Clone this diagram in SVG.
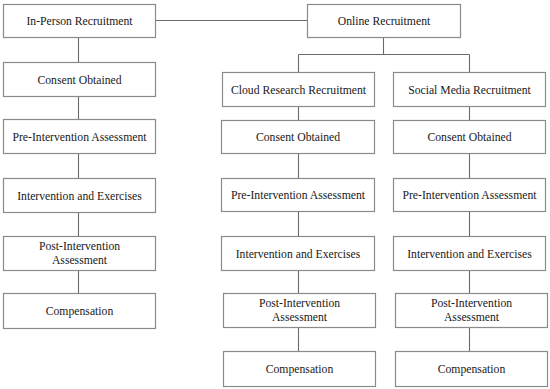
<svg xmlns="http://www.w3.org/2000/svg" width="550" height="389" viewBox="0 0 550 389">
<style>
.box{fill:#fff;stroke:#8a8a8a;stroke-width:1.2}
.t{font-family:"Liberation Serif","Times New Roman",serif;font-size:11.7px;fill:#1a1a1a;text-anchor:middle}
.c{stroke:#6a6a6a;stroke-width:1.1;fill:none}
</style>
<rect width="550" height="389" fill="#fff"/>
<g id="connectors">
<path class="c" d="M155,20.5H307"/>
<path class="c" d="M78.5,37V62M78.5,96V119M78.5,153V178M78.5,212V236M78.5,270V293"/>
<path class="c" d="M383.5,37V54.5M298.5,54.5H469.5M298.5,54.5V72M469.5,54.5V72"/>
<path class="c" d="M298.5,106V120M298.5,153V178M298.5,211V236M298.5,270V293M298.5,327V351"/>
<path class="c" d="M469.5,106V120M469.5,153V178M469.5,211V236M469.5,270V293M469.5,327V351"/>
</g>
<g id="inperson"><rect class="box" x="3.5" y="4.5" width="152" height="33"/><text class="t" x="79.5" y="25">In-Person Recruitment</text></g>
<g id="l_consent"><rect class="box" x="3.5" y="62.5" width="152" height="34"/><text class="t" x="79.5" y="83.5">Consent Obtained</text></g>
<g id="l_pre"><rect class="box" x="3.5" y="119.5" width="152" height="34"/><text class="t" x="79.5" y="140.5">Pre-Intervention Assessment</text></g>
<g id="l_int"><rect class="box" x="3.5" y="178.5" width="152" height="34"/><text class="t" x="79.5" y="199.5">Intervention and Exercises</text></g>
<g id="l_post"><rect class="box" x="3.5" y="236.5" width="152" height="34"/><text class="t" x="79.5" y="250">Post-Intervention</text><text class="t" x="79.5" y="264">Assessment</text></g>
<g id="l_comp"><rect class="box" x="3.5" y="293.5" width="152" height="35"/><text class="t" x="79.5" y="315">Compensation</text></g>

<g id="online"><rect class="box" x="307.5" y="4.5" width="153" height="33"/><text class="t" x="384" y="25">Online Recruitment</text></g>

<g id="cloud"><rect class="box" x="222.5" y="72.5" width="152" height="34"/><text class="t" x="298.5" y="93.5">Cloud Research Recruitment</text></g>
<g id="m_consent"><rect class="box" x="221.5" y="120.5" width="153" height="33"/><text class="t" x="298" y="141">Consent Obtained</text></g>
<g id="m_pre"><rect class="box" x="221.5" y="178.5" width="153" height="33"/><text class="t" x="298" y="199">Pre-Intervention Assessment</text></g>
<g id="m_int"><rect class="box" x="221.5" y="236.5" width="153" height="34"/><text class="t" x="298" y="257.5">Intervention and Exercises</text></g>
<g id="m_post"><rect class="box" x="223.5" y="293.5" width="152" height="34"/><text class="t" x="299.5" y="307">Post-Intervention</text><text class="t" x="299.5" y="321">Assessment</text></g>
<g id="m_comp"><rect class="box" x="223.5" y="351.5" width="152" height="35"/><text class="t" x="299.5" y="373">Compensation</text></g>

<g id="social"><rect class="box" x="393.5" y="72.5" width="152" height="34"/><text class="t" x="469.5" y="93.5">Social Media Recruitment</text></g>
<g id="r_consent"><rect class="box" x="393.5" y="120.5" width="152" height="33"/><text class="t" x="469.5" y="141">Consent Obtained</text></g>
<g id="r_pre"><rect class="box" x="393.5" y="178.5" width="152" height="33"/><text class="t" x="469.5" y="199">Pre-Intervention Assessment</text></g>
<g id="r_int"><rect class="box" x="393.5" y="236.5" width="152" height="34"/><text class="t" x="469.5" y="257.5">Intervention and Exercises</text></g>
<g id="r_post"><rect class="box" x="395.5" y="293.5" width="152" height="34"/><text class="t" x="471.5" y="307">Post-Intervention</text><text class="t" x="471.5" y="321">Assessment</text></g>
<g id="r_comp"><rect class="box" x="395.5" y="351.5" width="152" height="35"/><text class="t" x="471.5" y="373">Compensation</text></g>
</svg>
